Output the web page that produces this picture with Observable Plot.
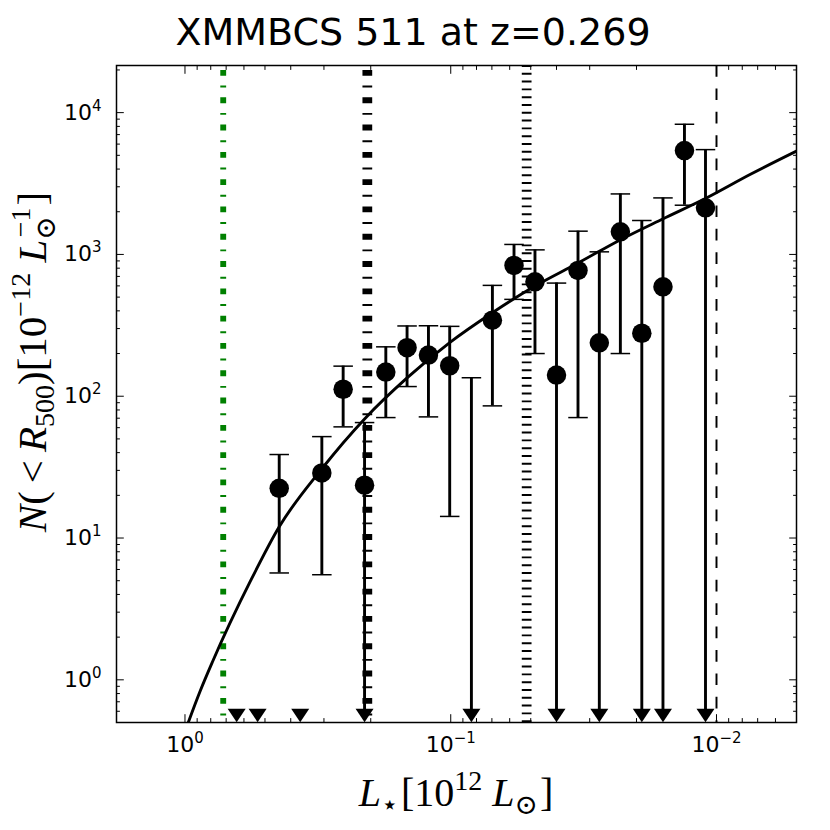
<!DOCTYPE html>
<html><head><meta charset="utf-8">
<script src="https://cdn.jsdelivr.net/npm/d3@7"></script>
<script src="https://cdn.jsdelivr.net/npm/@observablehq/plot@0.6"></script>
<style>body{margin:0;background:#fff}</style>
</head><body><div id="chart"></div>
<script>
// ---- data ----
const titleText = "XMMBCS 511 at z=0.269";
const binL  = [0.639, 0.533, 0.442, 0.3685, 0.3055, 0.254, 0.211, 0.1755, 0.146, 0.1213, 0.1009, 0.0836, 0.0697, 0.0578, 0.0482, 0.0400, 0.0332, 0.0276, 0.0230, 0.0191, 0.0159, 0.0132, 0.0110];
const binN  = [null, null, 22.4, null, 28.8, 112, 23.6, 148, 220, 195, 164, null, 344, 837, 641, 141, 771, 238, 1443, 278, 591, 5400, 2130];
const binHi = [null, null, 38.8, null, 51.9, 163, 65.2, 223, 313, 314, 311, 135, 605, 1176, 1077, 628, 1459, 1043, 2671, 1735, 2504, 8280, 5485];
const binLo = [null, null, 5.67, null, 5.51, 60.8, null, 70.7, 117, 71.5, 14.2, null, 85.5, 482, 200, null, 70.7, null, 200, null, null, 2224, null];
const limitLevel = 0.56;   // level where upper-limit arrows end

const fitL = [0.972, 0.878, 0.787, 0.565, 0.442, 0.3055, 0.211, 0.146, 0.1009, 0.0697, 0.0482, 0.0332, 0.02296, 0.01587, 0.01097, 0.00745, 0.0050];
const fitN = [0.50, 0.827, 1.346, 5.04, 12.0, 30.8, 69.2, 134.6, 239, 388, 598, 869, 1271, 1786, 2490, 3678, 5358];

const vlineGreen = [0.718];
const vlineDashDot = [0.206];
const vlineDotted = [0.0518];
const vlineDashed = [0.01];

const xDomain = [1.81, 0.005];
const yDomain = [0.5, 21500];
const xMajor = [1, 0.1, 0.01];
const xTickBase = ["10", "10", "10"];
const xTickExp = ["0", "\u22121", "\u22122"];
const xMinor = [0.9,0.8,0.7,0.6,0.5,0.4,0.3,0.2, 0.09,0.08,0.07,0.06,0.05,0.04,0.03,0.02, 0.009,0.008,0.007,0.006];
const yMajor = [1, 10, 100, 1000, 10000];
const yTickBase = ["10", "10", "10", "10", "10"];
const yTickExp = ["0", "1", "2", "3", "4"];
const yMinor = [0.6,0.7,0.8,0.9, 2,3,4,5,6,7,8,9, 20,30,40,50,60,70,80,90, 200,300,400,500,600,700,800,900, 2000,3000,4000,5000,6000,7000,8000,9000, 20000];

// ---- build ----
const bins = binL.map((L, i) => ({L, n: binN[i], hi: binHi[i], lo: binLo[i]}));
const fit = fitL.map((L, i) => ({L, n: fitN[i]}));
const xBase = new Map(xMajor.map((v, i) => [v, xTickBase[i]]));
const yBase = new Map(yMajor.map((v, i) => [v, yTickBase[i]]));

const capSymbol = {draw(ctx) { ctx.moveTo(-9.75, 0); ctx.lineTo(9.75, 0); }};
const triDown = {draw(ctx) { ctx.moveTo(-9, -6.7); ctx.lineTo(9, -6.7); ctx.lineTo(0, 6.7); ctx.closePath(); }};

const tickOpts = (anchor, size) => ({anchor, tickSize: -size, fill: "none", label: null, strokeWidth: 1});

const chart = Plot.plot({
  width: 830, height: 830,
  marginLeft: 116, marginRight: 34, marginTop: 65, marginBottom: 108,
  style: {fontFamily: "'DejaVu Sans', sans-serif", fontSize: "22px", color: "black", background: "white", overflow: "visible"},
  x: {type: "log", domain: xDomain},
  y: {type: "log", domain: yDomain},
  marks: [
    Plot.ruleX(vlineGreen, {x: d => d, stroke: "#008000", strokeWidth: 5.85, strokeDasharray: "5.85,9.75,1.95,9.75", strokeDashoffset: 22.3}),
    Plot.ruleX(vlineDashDot, {x: d => d, stroke: "black", strokeWidth: 9.75, strokeDasharray: "5.85,9.75,1.95,9.75", strokeDashoffset: 22.3}),
    Plot.ruleX(vlineDotted, {x: d => d, stroke: "black", strokeWidth: 9.75, strokeDasharray: "1.95,5.85"}),
    Plot.ruleX(vlineDashed, {x: d => d, stroke: "black", strokeWidth: 1.95, strokeDasharray: "11.7,11.7"}),
    Plot.line(fit, {x: "L", y: "n", stroke: "black", strokeWidth: 2.9, curve: "monotone-x", clip: true}),
    Plot.ruleX(bins.filter(d => d.hi != null), {x: "L", y1: d => d.lo ?? limitLevel, y2: "hi", stroke: "black", strokeWidth: 2.9}),
    Plot.dot(bins.filter(d => d.hi != null), {x: "L", y: "hi", symbol: capSymbol, stroke: "black", fill: "none", strokeWidth: 1.5}),
    Plot.dot(bins.filter(d => d.lo != null), {x: "L", y: "lo", symbol: capSymbol, stroke: "black", fill: "none", strokeWidth: 1.5}),
    Plot.dot(bins.filter(d => d.lo == null), {x: "L", y: () => limitLevel, symbol: triDown, fill: "black", stroke: "none"}),
    Plot.dot(bins.filter(d => d.n != null), {x: "L", y: "n", r: 9.75, fill: "black", stroke: "none"}),
    Plot.frame({stroke: "black", strokeWidth: 1.5}),
    Plot.axisX({ticks: xMajor, ...tickOpts("bottom", 7.8)}),
    Plot.axisX({ticks: xMinor, ...tickOpts("bottom", 3.9)}),
    Plot.axisX({ticks: xMajor, ...tickOpts("top", 7.8)}),
    Plot.axisX({ticks: xMinor, ...tickOpts("top", 3.9)}),
    Plot.axisY({ticks: yMajor, ...tickOpts("left", 7.8)}),
    Plot.axisY({ticks: yMinor, ...tickOpts("left", 3.9)}),
    Plot.axisY({ticks: yMajor, ...tickOpts("right", 7.8)}),
    Plot.axisY({ticks: yMinor, ...tickOpts("right", 3.9)}),
    Plot.axisX({ticks: xMajor, anchor: "bottom", tickSize: 0, tickPadding: 14, tickFormat: d => xBase.get(d), label: null, fill: "black", fontSize: 22}),
    Plot.axisY({ticks: yMajor, anchor: "left", tickSize: 0, tickPadding: 15, tickFormat: d => yBase.get(d), label: null, fill: "black", fontSize: 22})
  ]
});
document.getElementById("chart").appendChild(chart);

const svg = d3.select(chart);
// tick label font and superscript exponents
function decorate(selector, exps) {
  const texts = svg.selectAll(selector).filter(function() { return this.textContent === "10"; });
  texts.each(function(d, i) {
    const t = d3.select(this).attr("font-size", 22).style("font-size", "22px");
    t.append("tspan").attr("font-size", 15).style("font-size", "15px").attr("dy", -9).text(exps[i]);
  });
}
decorate('g[aria-label="x-axis tick label"] text', xTickExp);
decorate('g[aria-label="y-axis tick label"] text', yTickExp);

// ---- title and math axis labels (real text) ----
svg.append("text").attr("x", 413).attr("y", 45).attr("text-anchor", "middle")
  .attr("font-family", "'DejaVu Sans', sans-serif").attr("font-size", 38).attr("fill", "black").text(titleText);

const serif = "'Liberation Serif','DejaVu Serif',serif";
function mathText(sel, parts) {
  parts.forEach(p => {
    const t = sel.append("tspan").text(p.t);
    if (p.it) t.attr("font-style", "italic");
    if (p.fs) t.attr("font-size", p.fs);
    if (p.dy) t.attr("dy", p.dy);
    if (p.dx) t.attr("dx", p.dx);
  });
}
const xl = svg.append("text").attr("x", 456).attr("y", 806).attr("text-anchor", "middle")
  .attr("font-family", serif).attr("font-size", 40).attr("fill", "black");
mathText(xl, [
  {t: "L", it: true}, {t: "\u22C6", fs: 28, dy: 8}, {t: "[10", dy: -8, dx: 2}, {t: "12", fs: 28, dy: -16},
  {t: "\u00A0", dy: 16}, {t: "L", it: true}, {t: "\u2299", fs: 28, dy: 8}, {t: "]", dy: -8, dx: 2}
]);
const yl = svg.append("text").attr("transform", "translate(46,362) rotate(-90)").attr("text-anchor", "middle")
  .attr("font-family", serif).attr("font-size", 41).attr("fill", "black");
mathText(yl, [
  {t: "N", it: true}, {t: "("}, {t: "<", dx: 8}, {t: "R", it: true, dx: 8}, {t: "500", fs: 28, dy: 8}, {t: ")[10", dy: -8},
  {t: "\u221212", fs: 28, dy: -16}, {t: "\u00A0", dy: 16}, {t: "L", it: true}, {t: "\u2299", fs: 28, dy: 9},
  {t: "\u22121", fs: 28, dx: -21, dy: -25}, {t: "]", dy: 16, dx: 2}
]);
</script>
</body></html>
